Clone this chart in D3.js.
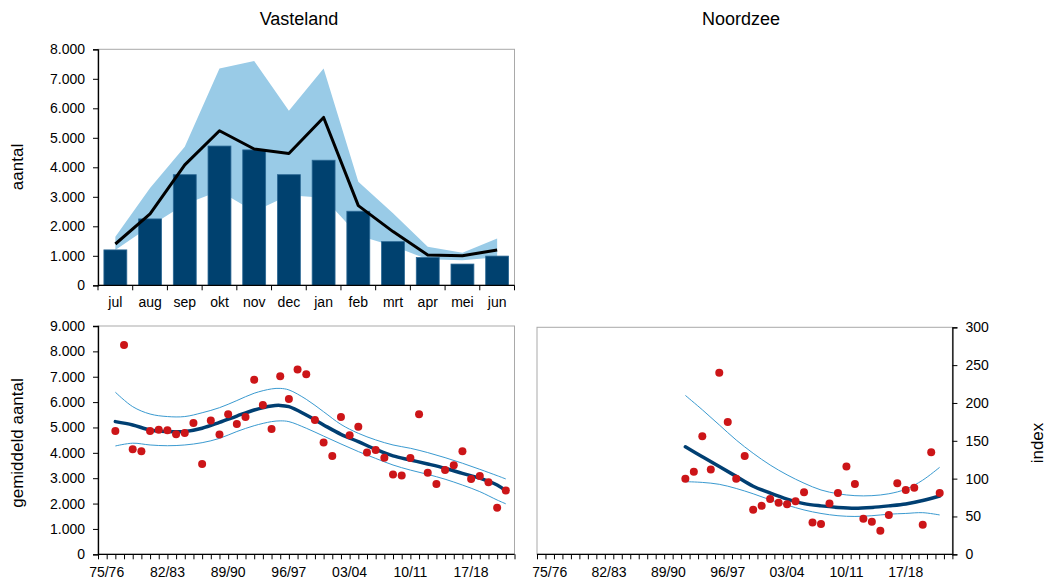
<!DOCTYPE html>
<html><head><meta charset="utf-8">
<script src="https://cdn.jsdelivr.net/npm/d3@7"></script>
<style>body{margin:0;background:#fff}svg{display:block}text{font-family:"Liberation Sans",Arial,sans-serif;fill:#000}</style>
</head><body>
<svg id="c" width="1053" height="581"></svg>
<script>
// ---- data ----
const months = ["jul","aug","sep","okt","nov","dec","jan","feb","mrt","apr","mei","jun"];
const monthBars = [1200,2250,3750,4720,4590,3750,4240,2510,1480,940,720,990];
const monthLine = [1400,2420,4080,5240,4620,4470,5690,2700,1820,1030,1000,1200];
const bandUpper = [1650,3300,4700,7350,7600,5920,7350,3510,2440,1310,1100,1590];
const bandLower = [1200,2000,2750,3200,2500,3050,2970,1690,1330,880,850,950];

const seasons = ["75/76","76/77","77/78","78/79","79/80","80/81","81/82","82/83","83/84","84/85","85/86","86/87","87/88","88/89","89/90","90/91","91/92","92/93","93/94","94/95","95/96","96/97","97/98","98/99","99/00","00/01","01/02","02/03","03/04","04/05","05/06","06/07","07/08","08/09","09/10","10/11","11/12","12/13","13/14","14/15","15/16","16/17","17/18","18/19","19/20","20/21","21/22"];
const seasonTicks = ["75/76","82/83","89/90","96/97","03/04","10/11","17/18"];

// Vasteland: yearly averages 76/77 .. 21/22
const vastSeasons = seasons.slice(1);
const vastDots = [4860,8250,4140,4060,4860,4910,4890,4730,4780,5180,3560,5270,4720,5520,5140,5410,6880,5890,4940,7020,6120,7290,7100,5290,4410,3880,5410,4690,5030,4010,4110,3810,3150,3110,3800,5520,3210,2770,3320,3510,4060,2970,3090,2840,1840,2520];
const vastTrendSeasons = ["76/77","78/79","80/81","82/83","84/85","86/87","88/89","90/91","92/93","94/95","95/96","96/97","98/99","00/01","02/03","04/05","06/07","08/09","10/11","12/13","14/15","16/17","18/19","20/21","21/22"];
const vastTrend = [5230,5100,4900,4840,4840,4970,5200,5450,5690,5850,5870,5820,5490,5100,4730,4440,4140,3880,3720,3560,3390,3190,3000,2730,2500];
const vastUpper = [6390,5820,5530,5430,5430,5580,5780,6060,6350,6520,6540,6480,6110,5620,5120,4770,4510,4310,4180,4010,3810,3590,3350,3100,2970];
const vastLower = [4270,4380,4310,4280,4310,4400,4570,4840,5070,5230,5260,5230,4970,4660,4350,4050,3780,3520,3320,3150,2960,2730,2470,2140,1990];

// Noordzee: index 91/92 .. 21/22
const nzSeasons = seasons.slice(16);
const nzDots = [100,109,156,112,240,175,100,130,59,64,73,68,66,70,82,42,40,67,81,116,93,47,43,31,52,94,85,88,39,135,81];
const nzTrendSeasons = ["91/92","93/94","95/96","97/98","99/00","01/02","03/04","05/06","07/08","09/10","11/12","13/14","15/16","17/18","19/20","21/22"];
const nzTrend = [142,129,116,103,90,81,73,67,64,62,61,62,64,66.5,71,77];
const nzUpper = [210,191,171,151,133.5,118,105,94,85,80,77.5,77.5,80,86,98,115];
const nzLower = [96,95,92.5,87,80,72,65,58.6,54,51,50,51,53,54,55,52];

// ---- drawing ----
const svg = d3.select("#c");
const loc = d3.formatLocale({decimal:",",thousands:".",grouping:[3],currency:["",""]});
const fmt = loc.format(",");
const C = {bar:"#00416f", barStroke:"#2b6894", band:"#99cbe7", dot:"#cc1518", trend:"#003f72", ci:"#3a9ad0", frame:"#a9a9a9"};
const FS = 14;

function frame(x0,x1,y0,y1){
  svg.append("rect").attr("x",x0).attr("y",y0).attr("width",x1-x0).attr("height",y1-y0)
    .attr("fill","none").attr("stroke",C.frame).attr("stroke-width",1);
}
function yAxisLeft(y, x0, ticks){
  const g = svg.append("g").attr("transform",`translate(${x0},0)`)
    .call(d3.axisLeft(y).tickValues(ticks).tickFormat(fmt).tickSize(5).tickPadding(8));
  g.select(".domain").attr("stroke","#000").attr("stroke-width",1.3);
  g.selectAll(".tick line").attr("stroke","#000");
  g.selectAll("text").attr("font-size",FS).attr("font-family","Liberation Sans");
}

// Titles
svg.append("text").attr("x",299).attr("y",25).attr("text-anchor","middle").attr("font-size",18).text("Vasteland");
svg.append("text").attr("x",741).attr("y",25).attr("text-anchor","middle").attr("font-size",18).text("Noordzee");

// ---- top-left: monthly ----
{
  const x0=98,x1=514.5,yT=49.3,yB=285.3;
  const x = d3.scaleBand().domain(months).range([x0,x1]).paddingInner(0.34).paddingOuter(0.17);
  const y = d3.scaleLinear().domain([0,8000]).range([yB,yT]);
  const cx = m => x(m)+x.bandwidth()/2;
  frame(x0,x1,yT,yB);
  const area = d3.area().x((d,i)=>cx(months[i])).y0(d=>y(d[0])).y1(d=>y(d[1]));
  svg.append("path").datum(bandLower.map((v,i)=>[v,bandUpper[i]])).attr("d",area).attr("fill",C.band);
  svg.selectAll(".bar").data(monthBars).join("rect")
    .attr("x",(d,i)=>x(months[i])).attr("width",x.bandwidth())
    .attr("y",d=>y(d)).attr("height",d=>yB-y(d))
    .attr("fill",C.bar).attr("stroke",C.barStroke).attr("stroke-width",0.8);
  svg.append("path").datum(monthLine).attr("fill","none").attr("stroke","#000").attr("stroke-width",3)
    .attr("stroke-linejoin","round")
    .attr("d",d3.line().x((d,i)=>cx(months[i])).y(d=>y(d)));
  yAxisLeft(y,x0,d3.range(0,8001,1000));
  // x axis
  const step = x.step();
  const gx = svg.append("g").attr("transform",`translate(0,${yB})`)
    .call(d3.axisBottom(x).tickSize(0).tickPadding(12));
  gx.select(".domain").remove();
  gx.selectAll("text").attr("font-size",FS);
  svg.append("line").attr("x1",x0).attr("x2",x1).attr("y1",yB).attr("y2",yB).attr("stroke","#000").attr("stroke-width",1.3);
  svg.selectAll(".mtick").data(d3.range(months.length+1)).join("line")
    .attr("x1",i=>x0+i*step).attr("x2",i=>x0+i*step).attr("y1",yB).attr("y2",yB+5).attr("stroke","#000");
  svg.append("text").attr("transform",`translate(23,167) rotate(-90)`).attr("text-anchor","middle").attr("font-size",17).text("aantal");
}

// ---- bottom helpers ----
function seasonPanel(opt){
  const {x0,x1,yT,yB,domain,tickVals} = opt;
  const x = d3.scaleLinear().domain(domain).range([x0,x1]);
  frame(x0,x1,yT,yB);
  // x axis line and minor ticks
  svg.append("line").attr("x1",x0).attr("x2",x1).attr("y1",yB).attr("y2",yB).attr("stroke","#000").attr("stroke-width",1.3);
  const gx = svg.append("g").attr("transform",`translate(0,${yB})`)
    .call(d3.axisBottom(x).tickValues(tickVals).tickFormat("").tickSize(5));
  gx.select(".domain").remove();
  gx.selectAll(".tick line").attr("stroke","#000");
  svg.selectAll(null).data(seasonTicks).join("text")
    .attr("x",d=>x(seasons.indexOf(d))).attr("y",yB+23).attr("text-anchor","middle")
    .attr("font-size",FS).text(d=>d);
  return x;
}
function drawSeries(x,y,trendS,trend,up,lo,dotS,dots){
  const line = (S)=>d3.line().curve(d3.curveCatmullRom.alpha(0.5)).x((d,i)=>x(seasons.indexOf(S[i]))).y(d=>y(d));
  svg.append("path").datum(up).attr("d",line(trendS)).attr("fill","none").attr("stroke",C.ci).attr("stroke-width",1);
  svg.append("path").datum(lo).attr("d",line(trendS)).attr("fill","none").attr("stroke",C.ci).attr("stroke-width",1);
  svg.append("path").datum(trend).attr("d",line(trendS)).attr("fill","none").attr("stroke",C.trend).attr("stroke-width",3.5).attr("stroke-linecap","round");
  svg.append("g").selectAll("circle").data(dots).join("circle")
    .attr("cx",(d,i)=>x(seasons.indexOf(dotS[i]))).attr("cy",d=>y(d)).attr("r",4).attr("fill",C.dot);
}

// ---- bottom-left: Vasteland trend ----
{
  const x0=98,x1=514.5,yT=326,yB=554.3;
  const x = seasonPanel({x0,x1,yT,yB,domain:[-1,47],tickVals:d3.range(-1,48,1)});
  const y = d3.scaleLinear().domain([0,9000]).range([yB,yT]);
  drawSeries(x,y,vastTrendSeasons,vastTrend,vastUpper,vastLower,vastSeasons,vastDots);
  yAxisLeft(y,x0,d3.range(0,9001,1000));
  svg.append("text").attr("transform",`translate(23,443) rotate(-90)`).attr("text-anchor","middle").attr("font-size",17).text("gemiddeld aantal");
}

// ---- bottom-right: Noordzee index ----
{
  const x0=537,x1=952.4,yT=327.3,yB=554.3;
  const x = seasonPanel({x0,x1,yT,yB,domain:[-1.5,47.5],tickVals:d3.range(-1.5,47.6,1)});
  const y = d3.scaleLinear().domain([0,300]).range([yB,yT]);
  drawSeries(x,y,nzTrendSeasons,nzTrend,nzUpper,nzLower,nzSeasons,nzDots);
  const g = svg.append("g").attr("transform",`translate(${x1},0)`)
    .call(d3.axisRight(y).tickValues(d3.range(0,301,50)).tickSize(5).tickPadding(8));
  g.select(".domain").attr("stroke","#000").attr("stroke-width",1.3);
  g.selectAll(".tick line").attr("stroke","#000");
  g.selectAll("text").attr("font-size",FS).attr("font-family","Liberation Sans");
  svg.append("text").attr("transform",`translate(1043,443) rotate(-90)`).attr("text-anchor","middle").attr("font-size",17).text("index");
}
</script>
</body></html>
